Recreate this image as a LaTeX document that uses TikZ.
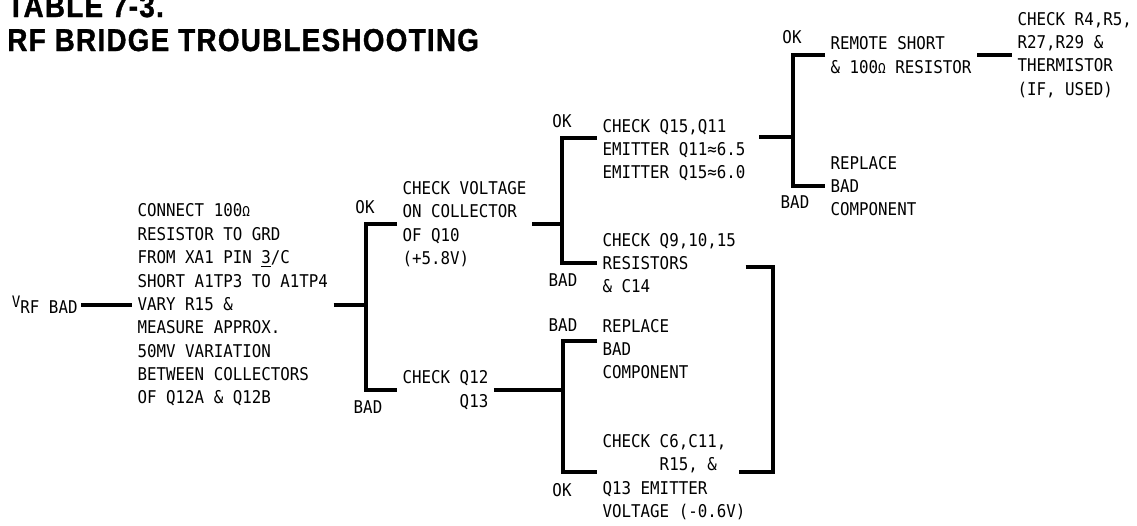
\documentclass[tikz,border=0pt]{standalone}
\usepackage{fontspec}
\setmonofont{DejaVu Sans Mono}[FakeStretch=0.9]
\newfontfamily\titlefont{Liberation Sans}[FakeStretch=0.88,LetterSpace=4,FakeBold=1.2]
\usetikzlibrary{calc,positioning}

\begin{document}
\begin{tikzpicture}[x=0.02cm,y=-0.02cm,
  every node/.style={font=\ttfamily\fontsize{10}{13.3}\selectfont,inner sep=0pt},
  txt/.style={align=left,anchor=west,inner xsep=3pt},
  br/.style={line width=2.2pt}]
\useasboundingbox (0,0) rectangle (1137,525);
\node[anchor=base west,font=\titlefont\bfseries\fontsize{18}{20}\selectfont] (tab) at (7,17) {TABLE 7-3.};
\node[anchor=base west,font=\titlefont\bfseries\fontsize{18}{20}\selectfont] (title) at (7,51) {RF BRIDGE TROUBLESHOOTING};
\node[anchor=base west,inner xsep=2pt] (vrf) at (8,313) {\raisebox{3pt}{\fontsize{9}{9}\selectfont V}RF BAD};
\node[txt] (conn) at (132,305) {CONNECT 100{\footnotesize Ω}\\RESISTOR TO GRD\\FROM XA1 PIN \underline{3}/C\\SHORT A1TP3 TO A1TP4\\VARY R15 \&\\MEASURE APPROX.\\50MV VARIATION\\BETWEEN COLLECTORS\\OF Q12A \& Q12B};
\node[txt] (volt) at (397,224) {CHECK VOLTAGE\\ON COLLECTOR\\OF Q10\\(+5.8V)};
\node[txt,align=right] (q12) at (397,390) {CHECK Q12\\Q13};
\node[txt] (q15) at (597,150) {CHECK Q15,Q11\\EMITTER Q11≈6.5\\EMITTER Q15≈6.0};
\node[txt] (q9) at (597,263) {CHECK Q9,10,15\\RESISTORS\\\& C14};
\node[txt] (rep1) at (597,349) {REPLACE\\BAD\\COMPONENT};
\node[txt] (c6) at (597,477) {CHECK C6,C11,\\\phantom{CHECK }R15, \&\\Q13 EMITTER\\VOLTAGE (-0.6V)};
\node[txt] (remote) at (825,55) {REMOTE SHORT\\\& 100{\footnotesize Ω} RESISTOR};
\node[txt] (rep2) at (825,186) {REPLACE\\BAD\\COMPONENT};
\node[txt] (r4) at (1012,55) {CHECK R4,R5,\\R27,R29 \&\\THERMISTOR\\(IF, USED)};
% branch labels
\node (ok1) at (365,207) {OK};
\node (bad1) at (368,407) {BAD};
\node (ok2) at (562,121) {OK};
\node (bad2) at (563,280) {BAD};
\node (bad3) at (563,325) {BAD};
\node (ok3) at (562,490) {OK};
\node (ok4) at (792,37) {OK};
\node (bad4) at (795,202) {BAD};
% bars
\coordinate (b1) at (366,305);
\coordinate (b2) at (562,222);
\coordinate (b3) at (793,137);
\coordinate (b4) at (563,389);
\coordinate (b5) at (773,370);
\draw[br] (vrf.east) -- (vrf.east -| conn.west);
\draw[br] (conn.east) -- (b1);
\draw[br] (volt.west) -| (b1) |- (q12.west);
\draw[br] (volt.east) -- (volt.east -| b2);
\draw[br] ([shift={(0,-12)}]q15.west) -| (b2) |- (q9.west);
\draw[br] ([shift={(8,-13)}]q15.east) -- (b3);
\draw[br] (remote.west) -| (b3) |- (rep2.west);
\draw[br] (remote.east) -- (r4.west);
\draw[br] (q12.east) -- (q12.east -| b4);
\draw[br] ([shift={(0,-8)}]rep1.west) -| (b4) |- ([shift={(0,-5)}]c6.west);
\draw[br] ([shift={(4,4)}]q9.east) -| (b5) |- ([shift={(-12,-5)}]c6.east);
\end{tikzpicture}
\end{document}
